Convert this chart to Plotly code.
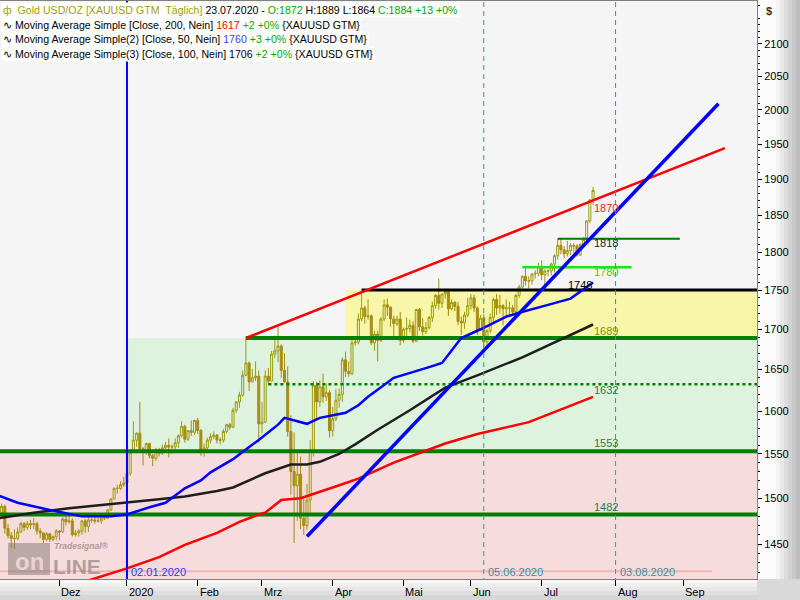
import math
import pandas as pd
import plotly.graph_objects as go

# ------------------------------------------------------------------ data
holidays = ["2019-12-25", "2020-01-01"]
bar_days = [d for d in pd.bdate_range("2019-11-05", "2020-07-23")
            if d.strftime("%Y-%m-%d") not in holidays]

opens = [
    # Nov 2019
    1509, 1484, 1491, 1467, 1459, 1456, 1456, 1463, 1472, 1468, 1472, 1471, 1472, 1464, 1462, 1455, 1461, 1455, 1458,
    # Dec 2019
    1464, 1463, 1477, 1474, 1475, 1460, 1462, 1464, 1475, 1469, 1476, 1476, 1475, 1475, 1478, 1478, 1487, 1499, 1511, 1511, 1515,
    # Jan 2020
    1517, 1528, 1552, 1566, 1574, 1556, 1553, 1562, 1548, 1545, 1555, 1551, 1557, 1560, 1558, 1558, 1563, 1571, 1582, 1567, 1577, 1575,
    # Feb
    1589, 1577, 1553, 1557, 1566, 1570, 1572, 1566, 1566, 1576, 1584, 1581, 1601, 1611, 1619, 1643, 1658, 1635, 1640, 1642,
    # Mar
    1585, 1587, 1642, 1636, 1669, 1673, 1679, 1649, 1635, 1576, 1530, 1514, 1527, 1478, 1470, 1498, 1553, 1631, 1611, 1629, 1617, 1622,
    # Apr
    1577, 1591, 1613, 1620, 1662, 1648, 1645, 1683, 1684, 1713, 1727, 1716, 1717, 1683, 1694, 1686, 1713, 1731, 1728, 1713, 1707, 1713,
    # May
    1686, 1700, 1701, 1705, 1685, 1725, 1703, 1697, 1702, 1715, 1730, 1743, 1733, 1745, 1748, 1726, 1734, 1729, 1710, 1708, 1718,
    # Jun
    1730, 1740, 1727, 1699, 1714, 1684, 1698, 1715, 1738, 1727, 1730, 1726, 1727, 1727, 1722, 1743, 1754, 1768, 1762, 1762, 1771, 1772,
    # Jul
    1781, 1770, 1775, 1775, 1784, 1795, 1809, 1803, 1798, 1802, 1809, 1808, 1796, 1810, 1817, 1842, 1872,
]
highs = [
    1510, 1494, 1493, 1472, 1463, 1466, 1468, 1474, 1474, 1475, 1476, 1478, 1474, 1467, 1462, 1463, 1462, 1459, 1466,
    1465, 1479, 1484, 1482, 1478, 1465, 1466, 1476, 1477, 1480, 1479, 1480, 1479, 1481, 1482, 1488, 1500, 1512, 1515, 1519, 1524,
    1530, 1553, 1588, 1575, 1611, 1558, 1563, 1563, 1550, 1557, 1557, 1561, 1564, 1568, 1561, 1568, 1573, 1588, 1584, 1577, 1589, 1590,
    1592, 1579, 1562, 1569, 1574, 1576, 1573, 1569, 1579, 1585, 1586, 1604, 1612, 1623, 1649, 1689, 1660, 1651, 1660, 1649,
    1611, 1649, 1652, 1673, 1692, 1703, 1681, 1670, 1654, 1595, 1575, 1552, 1547, 1502, 1516, 1566, 1636, 1635, 1637, 1645, 1633, 1625,
    1605, 1626, 1627, 1665, 1672, 1660, 1690, 1690, 1720, 1747, 1730, 1738, 1719, 1698, 1698, 1715, 1738, 1739, 1729, 1717, 1717, 1722,
    1702, 1715, 1712, 1710, 1726, 1727, 1714, 1709, 1717, 1735, 1745, 1765, 1745, 1749, 1749, 1738, 1736, 1735, 1716, 1722, 1740,
    1745, 1744, 1729, 1718, 1719, 1700, 1720, 1740, 1745, 1744, 1732, 1738, 1735, 1731, 1745, 1757, 1769, 1780, 1768, 1772, 1776, 1786,
    1789, 1777, 1777, 1786, 1797, 1818, 1818, 1808, 1815, 1812, 1812, 1811, 1812, 1820, 1843, 1872, 1889,
]
lows = [
    1480, 1479, 1461, 1456, 1446, 1445, 1454, 1462, 1464, 1465, 1466, 1466, 1460, 1456, 1451, 1453, 1452, 1453, 1454,
    1454, 1462, 1470, 1472, 1458, 1458, 1458, 1460, 1462, 1463, 1473, 1472, 1473, 1472, 1476, 1477, 1486, 1499, 1505, 1509, 1513,
    1516, 1525, 1552, 1558, 1553, 1537, 1549, 1545, 1536, 1542, 1547, 1549, 1556, 1546, 1550, 1551, 1557, 1569, 1563, 1565, 1571, 1572,
    1573, 1548, 1547, 1554, 1562, 1567, 1562, 1561, 1563, 1574, 1578, 1580, 1598, 1604, 1617, 1642, 1624, 1634, 1636, 1563,
    1574, 1586, 1631, 1636, 1664, 1659, 1640, 1634, 1570, 1504, 1451, 1475, 1466, 1460, 1465, 1482, 1547, 1590, 1605, 1610, 1612, 1569,
    1570, 1588, 1604, 1611, 1641, 1641, 1643, 1679, 1681, 1710, 1707, 1712, 1680, 1673, 1660, 1684, 1710, 1717, 1703, 1690, 1704, 1680,
    1683, 1691, 1696, 1683, 1684, 1698, 1692, 1694, 1700, 1709, 1726, 1725, 1727, 1739, 1717, 1724, 1723, 1705, 1693, 1700, 1715,
    1725, 1722, 1693, 1698, 1671, 1678, 1695, 1709, 1718, 1720, 1705, 1714, 1719, 1717, 1721, 1740, 1752, 1756, 1752, 1757, 1765, 1768,
    1763, 1757, 1768, 1769, 1773, 1790, 1797, 1792, 1794, 1796, 1799, 1794, 1795, 1808, 1815, 1839, 1864,
]
closes = [
    1484, 1491, 1467, 1459, 1456, 1456, 1463, 1472, 1468, 1472, 1471, 1472, 1464, 1462, 1455, 1461, 1455, 1458, 1464,
    1463, 1477, 1474, 1475, 1460, 1462, 1464, 1475, 1469, 1476, 1476, 1475, 1475, 1478, 1478, 1487, 1499, 1511, 1511, 1515, 1517,
    1528, 1552, 1566, 1574, 1556, 1553, 1562, 1548, 1545, 1555, 1551, 1557, 1560, 1558, 1558, 1563, 1571, 1582, 1567, 1577, 1575, 1589,
    1577, 1553, 1557, 1566, 1570, 1572, 1566, 1566, 1576, 1584, 1581, 1601, 1611, 1619, 1643, 1658, 1635, 1640, 1642, 1585,
    1587, 1642, 1636, 1669, 1673, 1679, 1649, 1635, 1576, 1530, 1514, 1527, 1478, 1470, 1498, 1553, 1631, 1611, 1629, 1617, 1622, 1577,
    1591, 1613, 1620, 1662, 1648, 1645, 1683, 1684, 1713, 1727, 1716, 1717, 1683, 1694, 1686, 1713, 1731, 1728, 1713, 1707, 1713, 1686,
    1700, 1701, 1705, 1685, 1725, 1703, 1697, 1702, 1715, 1730, 1743, 1733, 1745, 1748, 1726, 1734, 1729, 1710, 1708, 1718, 1730,
    1740, 1727, 1699, 1714, 1684, 1698, 1715, 1738, 1727, 1730, 1726, 1727, 1727, 1722, 1743, 1754, 1768, 1762, 1762, 1771, 1772, 1781,
    1770, 1775, 1775, 1784, 1795, 1809, 1803, 1798, 1802, 1809, 1808, 1796, 1810, 1817, 1842, 1871, 1884,
]

# moving averages
ma200_dates = ["2019-12-02", "2020-01-02", "2020-01-16", "2020-01-28", "2020-02-11", "2020-02-20", "2020-02-28",
               "2020-03-03", "2020-03-10", "2020-03-18", "2020-04-01", "2020-04-13", "2020-04-28", "2020-05-20",
               "2020-06-03", "2020-06-25", "2020-07-23"]
ma200_vals = [1402, 1424, 1436, 1449, 1462, 1474, 1482, 1484, 1498, 1500, 1512, 1522, 1540, 1562, 1573, 1587, 1617]

ma50_dates = ["2019-11-05", "2019-11-13", "2019-11-27", "2019-12-11", "2019-12-24", "2020-01-02", "2020-01-13",
              "2020-01-20", "2020-01-28", "2020-02-04", "2020-02-07", "2020-02-18", "2020-02-25", "2020-02-28",
              "2020-03-09", "2020-03-11", "2020-03-20", "2020-03-26", "2020-04-07", "2020-04-13", "2020-04-16",
              "2020-04-28", "2020-05-13", "2020-05-19", "2020-05-27", "2020-06-04", "2020-06-16", "2020-06-22",
              "2020-07-03", "2020-07-14", "2020-07-23"]
ma50_vals = [1503, 1495, 1487, 1480, 1480, 1482, 1490, 1495, 1511, 1520, 1529, 1544, 1558, 1566, 1584, 1592, 1585,
             1592, 1598, 1607, 1617, 1640, 1653, 1658, 1689, 1700, 1716, 1721, 1731, 1739, 1760]

ma100_dates = ["2019-11-05", "2019-11-20", "2019-12-05", "2019-12-18", "2020-01-02", "2020-01-16", "2020-01-28",
               "2020-02-11", "2020-02-18", "2020-02-25", "2020-03-03", "2020-03-13", "2020-03-20", "2020-03-26",
               "2020-04-03", "2020-04-10", "2020-04-21", "2020-05-05", "2020-05-20", "2020-06-03", "2020-06-23",
               "2020-07-23"]
ma100_vals = [1478, 1484, 1489, 1492, 1495, 1499, 1502, 1508, 1512, 1520, 1528, 1538, 1538, 1541, 1550, 1561, 1578,
              1601, 1628, 1643, 1665, 1706]

# trend lines
red_trend_dates = ["2020-02-24", "2020-09-18"]
red_trend_vals = [1689, 1944]
blue_trend_dates = ["2020-03-20", "2020-09-16"]
blue_trend_vals = [1458, 2009]

# horizontal levels
level_vals = [1421, 1482, 1553, 1632, 1689, 1750, 1780, 1818]
level_starts = ["2019-11-04", "2019-11-04", "2019-11-04", "2020-03-04", "2020-02-24", "2020-04-14", "2020-06-23", "2020-07-08"]
level_ends = ["2020-09-14", "2020-10-05", "2020-10-05", "2020-10-05", "2020-10-05", "2020-10-05", "2020-08-10", "2020-08-31"]

# zones
zone_lows = [1400, 1553, 1689]
zone_highs = [1553, 1689, 1750]
zone_starts = ["2019-11-04", "2020-01-02", "2020-04-07"]
zone_end = "2020-10-05"

# level labels
label_texts = ["1870", "1818", "1780", "1748", "1689", "1632", "1553", "1482"]
label_levels = [1870, 1818, 1780, 1750, 1689, 1632, 1553, 1482]
label_dates = ["2020-07-23", "2020-07-23", "2020-07-23", "2020-07-13", "2020-07-23", "2020-07-23", "2020-07-23", "2020-07-23"]

# vertical markers
vline_dates = ["2020-01-02", "2020-06-05", "2020-08-03"]
vline_labels = ["02.01.2020", "05.06.2020", "03.08.2020"]

# axis ticks
month_tick_dates = ["2019-12-02", "2020-01-02", "2020-02-03", "2020-03-02", "2020-04-01", "2020-05-01",
                    "2020-06-01", "2020-07-01", "2020-08-03", "2020-09-01"]
month_labels = ["Dez", "2020", "Feb", "Mrz", "Apr", "Mai", "Jun", "Jul", "Aug", "Sep"]
y_ticks = [1450, 1500, 1550, 1600, 1650, 1700, 1750, 1800, 1850, 1900, 1950, 2000, 2050, 2100]

# ------------------------------------------------------------------ helpers / styling
FONT = "Liberation Sans, Arial, sans-serif"
W_PLOT, TOP, BOTTOM = 757, 1, 579


def noon(d):
    return (pd.Timestamp(d) + pd.Timedelta(hours=12)).strftime("%Y-%m-%d %H:%M")


def px(x):
    return x / W_PLOT


def py(y):
    return (BOTTOM - y) / (BOTTOM - TOP)


bar_x = [noon(d) for d in bar_days]

fig = go.Figure()
shapes = []

# zones (drawn below the candles)
zone_colors = ["#f6dcdc", "#ddf3de", "#f8f6a8"]
for lo, hi, st, col in zip(zone_lows, zone_highs, zone_starts, zone_colors):
    shapes.append(dict(type="rect", xref="x", yref="y", x0=noon(st), x1=noon(zone_end), y0=lo, y1=hi,
                       fillcolor=col, line=dict(width=0), layer="below"))

# horizontal lines
level_style = {
    1421: dict(color="#f0b4b4", width=2),
    1482: dict(color="#008000", width=4),
    1553: dict(color="#008000", width=4),
    1632: dict(color="#008000", width=2.5, dash="dot"),
    1689: dict(color="#008000", width=4),
    1750: dict(color="#000000", width=3),
    1780: dict(color="#22e022", width=2.5),
    1818: dict(color="#007800", width=2),
}
for v, s, e in zip(level_vals, level_starts, level_ends):
    fig.add_trace(go.Scatter(x=[noon(s), noon(e)], y=[v, v], mode="lines", line=level_style[v],
                             hoverinfo="skip", showlegend=False))

# candles
fig.add_trace(go.Candlestick(
    x=bar_x, open=opens, high=highs, low=lows, close=closes,
    increasing=dict(line=dict(color="#9d9a0c", width=1), fillcolor="rgba(0,0,0,0)"),
    decreasing=dict(line=dict(color="#a88a12", width=1), fillcolor="#a8900e"),
    whiskerwidth=0, hoverinfo="skip", showlegend=False))

# moving averages
for dts, vals, col in [(ma200_dates, ma200_vals, "#ff0000"),
                       (ma100_dates, ma100_vals, "#1e1e1e"),
                       (ma50_dates, ma50_vals, "#0000ff")]:
    fig.add_trace(go.Scatter(x=[noon(d) for d in dts], y=vals, mode="lines",
                             line=dict(color=col, width=2.5), hoverinfo="skip", showlegend=False))

# trend lines
fig.add_trace(go.Scatter(x=[noon(d) for d in red_trend_dates], y=red_trend_vals, mode="lines",
                         line=dict(color="#ff0000", width=2.5), hoverinfo="skip", showlegend=False))
fig.add_trace(go.Scatter(x=[noon(d) for d in blue_trend_dates], y=blue_trend_vals, mode="lines",
                         line=dict(color="#0000ff", width=3.5), hoverinfo="skip", showlegend=False))

# vertical markers
vline_styles = [dict(color="#0000ff", width=2),
                dict(color="#4a8f8f", width=1, dash="5px,4px"),
                dict(color="#4a8f8f", width=1, dash="5px,4px")]
for d, st in zip(vline_dates, vline_styles):
    fig.add_trace(go.Scatter(x=[noon(d), noon(d)], y=[1390, 2250], mode="lines", line=st,
                             hoverinfo="skip", showlegend=False))

annotations = []

# level labels
label_colors = ["#ff2020", "#0f2a2a", "#22dd22", "#000000", "#6f9a1a", "#2e7a4e", "#2e7a4e", "#2e7a4e"]
label_shift = [-7, -4.5, -5, 5.5, 7.5, -6, 8, 8]
for t, lv, d, c, sh in zip(label_texts, label_levels, label_dates, label_colors, label_shift):
    annotations.append(dict(x=noon(d), y=math.log10(lv), xref="x", yref="y", text=t, showarrow=False,
                            xanchor="left", yanchor="middle", yshift=sh, xshift=-1,
                            font=dict(family=FONT, size=11, color=c)))

# vertical marker labels
vl_colors = ["#1a3cff", "#3a8fa0", "#3a8fa0"]
for d, t, c in zip(vline_dates, vline_labels, vl_colors):
    annotations.append(dict(x=noon(d), y=py(572), xref="x", yref="paper", text=t, showarrow=False,
                            xanchor="left", yanchor="middle", xshift=2,
                            font=dict(family=FONT, size=11, color=c)))

# month labels
for d, t in zip(month_tick_dates, month_labels):
    annotations.append(dict(x=noon(d), y=py(592), xref="x", yref="paper", text=t, showarrow=False,
                            xanchor="left", yanchor="middle", xshift=0,
                            font=dict(family=FONT, size=11, color="#000")))

# header / legend lines
g = "#00a800"
header = [
    (10, "<span style='color:#a39c10'>ф  Gold USD/OZ [XAUUSD GTM&nbsp;&nbsp;Täglich]</span> 23.07.2020 - "
         f"<span style='color:{g}'>O:{opens[-1]}</span> H:{highs[-1]} L:{lows[-1]} "
         f"<span style='color:{g}'>C:{closes[-1]} +{closes[-1] - closes[-2]} +0%</span>"),
    (25, f"∿ Moving Average Simple [Close, 200, Nein] <span style='color:#ff0000'>{ma200_vals[-1]}</span>"
         f"<span style='color:{g}'> +2 +0%</span> {{XAUUSD GTM}}"),
    (39.5, f"∿ Moving Average Simple(2) [Close, 50, Nein] <span style='color:#3c3cff'>{ma50_vals[-1]}</span>"
           f"<span style='color:{g}'> +3 +0%</span> {{XAUUSD GTM}}"),
    (54, f"∿ Moving Average Simple(3) [Close, 100, Nein] {ma100_vals[-1]}"
         f"<span style='color:{g}'> +2 +0%</span> {{XAUUSD GTM}}"),
]
for yy, t in header:
    annotations.append(dict(x=0, y=py(yy), xref="paper", yref="paper", text=t, showarrow=False,
                            xanchor="left", yanchor="middle", bgcolor="white", borderpad=1, xshift=1,
                            font=dict(family=FONT, size=10.6, color="#000")))

# currency sign on the price axis
annotations.append(dict(x=px(764), y=py(11), xref="paper", yref="paper", text="<b>$</b>", showarrow=False,
                        xanchor="left", yanchor="middle", font=dict(family=FONT, size=11, color="#333")))

# logo
annotations += [
    dict(x=px(29), y=py(561), xref="paper", yref="paper", text="<b>on</b>", showarrow=False,
         xanchor="center", yanchor="middle", font=dict(family=FONT, size=24, color="rgba(236,214,214,0.95)")),
    dict(x=px(51), y=py(566), xref="paper", yref="paper", text="<b>LINE</b>", showarrow=False,
         xanchor="left", yanchor="middle", font=dict(family=FONT, size=21, color="rgba(120,105,105,0.55)")),
    dict(x=px(52), y=py(546), xref="paper", yref="paper", text="<b><i>Tradesignal®</i></b>", showarrow=False,
         xanchor="left", yanchor="middle", font=dict(family=FONT, size=8.5, color="rgba(120,105,105,0.6)")),
]

# decorative bands (axis backgrounds) and logo box
for x0, x1, c in [(757, 776, "#fcfcfc"), (776, 780, "#f3f3f3"), (780, 784, "#e8e8e8"), (784, 788, "#dddddd"),
                  (788, 792, "#d2d2d2"), (792, 796, "#c8c8c8"), (796, 800, "#bebebe")]:
    shapes.append(dict(type="rect", xref="paper", yref="paper", x0=px(x0), x1=px(x1), y0=py(579), y1=py(0),
                       fillcolor=c, line=dict(width=0), layer="below"))
for y0, y1, c in [(579, 583, "#f8f8f8"), (583, 587, "#efefef"), (587, 591, "#e7e7e7"), (591, 595, "#dfdfdf"),
                  (595, 600, "#d6d6d6")]:
    shapes.append(dict(type="rect", xref="paper", yref="paper", x0=px(0), x1=px(757), y0=py(y1), y1=py(y0),
                       fillcolor=c, line=dict(width=0), layer="below"))
shapes.append(dict(type="rect", xref="paper", yref="paper", x0=px(757), x1=px(800), y0=py(600), y1=py(579),
                   fillcolor="#d9d9d9", line=dict(width=0), layer="below"))
shapes.append(dict(type="rect", xref="paper", yref="paper", x0=px(8), x1=px(50), y0=py(575), y1=py(543),
                   fillcolor="rgba(120,105,105,0.45)", line=dict(width=0), layer="above"))

minor_vals = [v for v in range(1420, 2170, 10) if v % 50 != 0]

fig.update_layout(
    width=800, height=600, template="none",
    margin=dict(l=0, r=43, t=TOP, b=600 - BOTTOM, pad=0),
    paper_bgcolor="#e4e4e4", plot_bgcolor="#f5f5f5",
    showlegend=False, hovermode=False, boxgap=0.1,
    font=dict(family=FONT, size=11, color="#000"),
    xaxis=dict(type="date", range=["2019-11-06 00:00", "2020-10-02 12:00"],
               rangebreaks=[dict(bounds=["sat", "mon"]), dict(values=holidays)],
               rangeslider=dict(visible=False),
               tickmode="array", tickvals=[noon(d) for d in month_tick_dates], showticklabels=False,
               ticks="outside", ticklen=6, tickcolor="#000", tickwidth=1,
               showgrid=False, zeroline=False, showline=True, linecolor="#808080", linewidth=1, mirror=True,
               automargin=False, fixedrange=True),
    yaxis=dict(type="log", side="right", range=[math.log10(1412.9), math.log10(2167.9)],
               tickmode="array", tickvals=y_ticks, ticktext=[str(v) for v in y_ticks],
               ticks="outside", ticklen=4, tickcolor="#000", tickwidth=1,
               tickfont=dict(family=FONT, size=11, color="#000"),
               minor=dict(tickmode="array", tickvals=minor_vals, ticks="outside", ticklen=2,
                          tickcolor="#000", showgrid=False),
               showgrid=False, zeroline=False, showline=True, linecolor="#808080", linewidth=1, mirror=True,
               automargin=False, fixedrange=True),
    annotations=annotations, shapes=shapes,
)

fig.write_html("out.html", config={"displayModeBar": False},
               post_script="document.body.style.margin='0px';")
